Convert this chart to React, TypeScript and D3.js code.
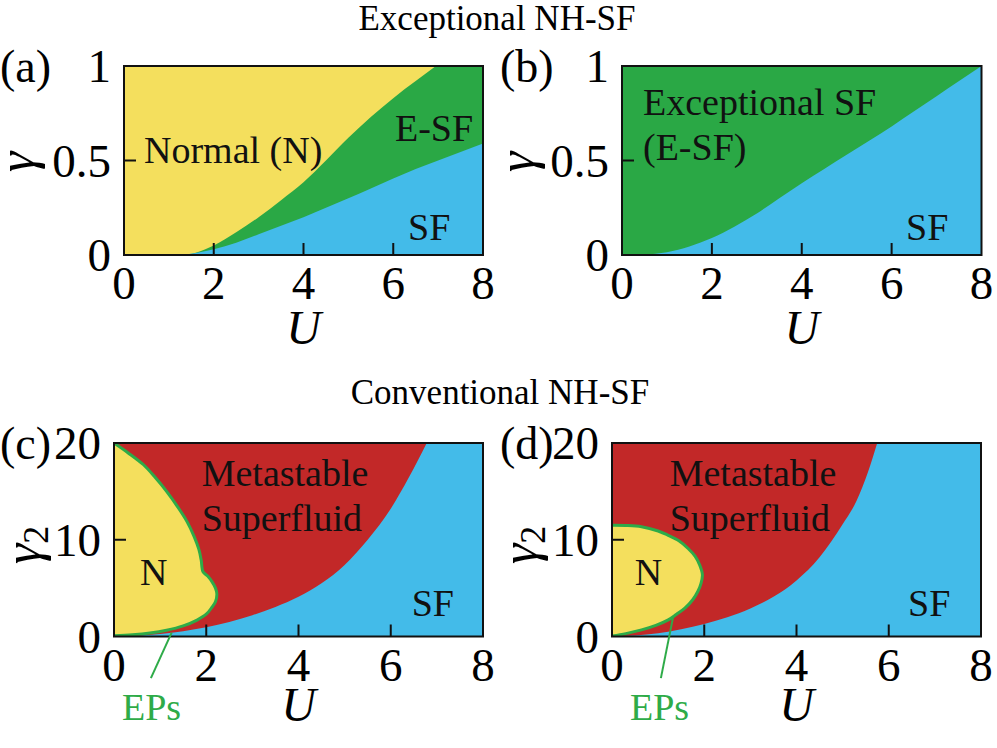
import React from 'react';
import * as d3 from 'd3';

// ---------- data ----------
const uTicks = [0, 2, 4, 6, 8];
const gammaTicks = [0, 0.5, 1];
const gamma2Ticks = [0, 10, 20];

// (a) boundary between Normal and E-SF, and between E-SF and SF  [U, gamma]
const aNormalEdge: [number, number][] = [
  [1.24, 0], [1.6, 0.012], [2, 0.05], [2.5, 0.12], [3, 0.2], [3.5, 0.29], [4, 0.385],
  [4.5, 0.5], [5, 0.62], [5.5, 0.73], [6, 0.83], [6.5, 0.92], [6.95, 1],
];
const aSfEdge: [number, number][] = [
  [1.3, 0], [1.6, 0.01], [2, 0.03], [2.5, 0.065], [3, 0.11], [3.5, 0.155], [4, 0.2],
  [4.5, 0.25], [5, 0.3], [5.5, 0.352], [6, 0.405], [6.5, 0.455], [7, 0.5], [7.5, 0.545], [8, 0.59],
];
// (b) boundary between E-SF and SF
const bSfEdge: [number, number][] = [
  [0, 0], [0.5, 0.003], [1, 0.015], [1.5, 0.045], [2, 0.09], [2.5, 0.15], [3, 0.22], [3.5, 0.3],
  [4, 0.38], [4.5, 0.455], [5, 0.53], [5.5, 0.605], [6, 0.68], [6.5, 0.76], [7, 0.84], [7.5, 0.92], [8, 1],
];
// (c) Normal region boundary (EP line) and metastable / SF boundary  [U, gamma2]
const cNormalEdge: [number, number][] = [
  [0, 20], [0.3, 19.0], [0.64, 17.75], [0.9, 16.4], [1.14, 15.0], [1.38, 13.4], [1.58, 11.9],
  [1.74, 10.3], [1.84, 9.0], [1.89, 7.9], [1.93, 6.7], [2.03, 6.25], [2.12, 5.7], [2.2, 5.0],
  [2.23, 4.4], [2.2, 3.6], [2.12, 3.0], [2.0, 2.3], [1.8, 1.7], [1.5, 1.1], [1.14, 0.65],
  [0.78, 0.36], [0.4, 0.18], [0, 0.08],
];
const cSfEdge: [number, number][] = [
  [0, 0], [0.5, 0.08], [1, 0.25], [1.5, 0.55], [2, 0.95], [2.5, 1.5], [3, 2.2], [3.5, 3.05],
  [4, 4.1], [4.5, 5.5], [5, 7.4], [5.5, 10.0], [6, 13.2], [6.4, 16.5], [6.78, 20],
];
const cEpLeader: [number, number][] = [[0.8, -4.3], [1.25, 0.4]];
// (d)
const dNormalEdge: [number, number][] = [
  [0, 11.5], [0.3, 11.48], [0.64, 11.35], [1.0, 10.9], [1.2, 10.5], [1.45, 9.9], [1.65, 9.1],
  [1.8, 8.3], [1.9, 7.4], [1.96, 6.4], [1.93, 5.5], [1.86, 4.65], [1.75, 3.8], [1.58, 2.93],
  [1.4, 2.3], [1.22, 1.72], [0.95, 1.15], [0.64, 0.68], [0.3, 0.3], [0, 0.05],
];
const dSfEdge: [number, number][] = [
  [0, 0], [0.5, 0.1], [1, 0.33], [1.5, 0.75], [2, 1.3], [2.5, 2.0], [3, 2.9], [3.5, 4.1],
  [4, 5.8], [4.5, 8.2], [5, 11.6], [5.3, 14.0], [5.55, 17.0], [5.75, 20],
];
const dEpLeader: [number, number][] = [[1.06, -4.3], [1.32, 1.9]];

// ---------- style ----------
const YELLOW = '#f4df5d';
const GREEN = '#2aa845';
const BLUE = '#43bbe9';
const RED = '#c22828';
const LINE_GREEN = '#2eab48';
const FONT = 'Liberation Serif';

type Box = { left: number; right: number; top: number; bottom: number };

const boxA: Box = { left: 124, right: 483, top: 66, bottom: 255 };
const boxB: Box = { left: 622, right: 981.5, top: 66, bottom: 255 };
const boxC: Box = { left: 114, right: 483, top: 443, bottom: 636.5 };
const boxD: Box = { left: 612, right: 981, top: 443, bottom: 636.5 };

function Frame({ id, box, yMax, yTicks, yTickLabels, panel, ySub, children, uBaseline }: any) {
  const x = d3.scaleLinear().domain([0, 8]).range([box.left, box.right]);
  const y = d3.scaleLinear().domain([0, yMax]).range([box.bottom, box.top]);
  return (
    <g>
      <defs>
        <clipPath id={id}>
          <rect x={box.left} y={box.top} width={box.right - box.left} height={box.bottom - box.top} />
        </clipPath>
      </defs>
      <g clipPath={`url(#${id})`}>{children(x, y)}</g>
      <rect x={box.left} y={box.top} width={box.right - box.left} height={box.bottom - box.top}
        fill="none" stroke="#111" strokeWidth={2} />
      {uTicks.slice(1, -1).map((t) => (
        <line key={'xt' + t} x1={x(t)} x2={x(t)} y1={box.bottom} y2={box.bottom - 12} stroke="#111" strokeWidth={2} />
      ))}
      {yTicks.slice(1, -1).map((t: number) => (
        <line key={'yt' + t} x1={box.left} x2={box.left + 12} y1={y(t)} y2={y(t)} stroke="#111" strokeWidth={2} />
      ))}
      {uTicks.map((t) => (
        <text key={'xl' + t} x={x(t)} y={box.bottom + 44} textAnchor="middle" fontSize={47} style={{ fontFamily: FONT }}>{t}</text>
      ))}
      {yTicks.map((t: number, i: number) => (
        <text key={'yl' + t} x={box.left - 13} y={y(t) + 16} textAnchor="end" fontSize={47} style={{ fontFamily: FONT }}>{yTickLabels[i]}</text>
      ))}
      <text x={x(4)} y={uBaseline} textAnchor="middle" fontSize={48} fontStyle="italic" style={{ fontFamily: FONT }}>U</text>
      <text x={panel.x} y={panel.y} fontSize={46} style={{ fontFamily: FONT }}>{panel.label}</text>
      <text transform={`translate(${ySub.x},${ySub.y}) rotate(-90)`} textAnchor="middle" fontSize={52}
        fontStyle="italic" style={{ fontFamily: FONT }}>
        γ{ySub.sub ? <tspan fontStyle="normal" fontSize={36} dy={8}>2</tspan> : null}
      </text>
    </g>
  );
}

export default function App() {
  const mono = (x: any, y: any) => d3.line<[number, number]>().x((d) => x(d[0])).y((d) => y(d[1])).curve(d3.curveMonotoneX);
  const smooth = (x: any, y: any) => d3.line<[number, number]>().x((d) => x(d[0])).y((d) => y(d[1])).curve(d3.curveCatmullRom.alpha(0.5));
  const straight = (x: any, y: any) => d3.line<[number, number]>().x((d) => x(d[0])).y((d) => y(d[1]));

  const label = (x: number, y: number, s: string, size = 38, fill = '#111') => (
    <text x={x} y={y} fontSize={size} fill={fill} style={{ fontFamily: FONT }}>{s}</text>
  );

  return (
    <svg width={997} height={748} style={{ position: 'absolute', left: 0, top: 0, background: '#fff' }}>
      <text x={497} y={30} textAnchor="middle" fontSize={35} style={{ fontFamily: FONT }}>Exceptional NH-SF</text>
      <text x={500} y={404} textAnchor="middle" fontSize={35} style={{ fontFamily: FONT }}>Conventional NH-SF</text>

      {/* (a) */}
      <Frame id="clipA" box={boxA} yMax={1} yTicks={gammaTicks} yTickLabels={['0', '0.5', '1']}
        panel={{ x: 0, y: 82, label: '(a)' }} ySub={{ x: 34, y: 162, sub: false }} uBaseline={344}>
        {(x: any, y: any) => (
          <g>
            <rect x={boxA.left} y={boxA.top} width={boxA.right - boxA.left} height={boxA.bottom - boxA.top} fill={YELLOW} />
            <path d={`${mono(x, y)(aNormalEdge)}L${x(8)},${y(1)}L${x(8)},${y(0)}Z`} fill={GREEN} />
            <path d={`${mono(x, y)(aSfEdge)}L${x(8)},${y(0)}Z`} fill={BLUE} />
          </g>
        )}
      </Frame>
      {label(144, 163, 'Normal (N)')}
      {label(395, 141, 'E-SF')}
      {label(408, 240, 'SF')}

      {/* (b) */}
      <Frame id="clipB" box={boxB} yMax={1} yTicks={gammaTicks} yTickLabels={['0', '0.5', '1']}
        panel={{ x: 500, y: 82, label: '(b)' }} ySub={{ x: 534, y: 162, sub: false }} uBaseline={344}>
        {(x: any, y: any) => (
          <g>
            <rect x={boxB.left} y={boxB.top} width={boxB.right - boxB.left} height={boxB.bottom - boxB.top} fill={GREEN} />
            <path d={`${mono(x, y)(bSfEdge)}L${x(8)},${y(0)}Z`} fill={BLUE} />
          </g>
        )}
      </Frame>
      {label(643, 115, 'Exceptional SF')}
      {label(643, 160, '(E-SF)')}
      {label(906, 240, 'SF')}

      {/* (c) */}
      <Frame id="clipC" box={boxC} yMax={20} yTicks={gamma2Ticks} yTickLabels={['0', '10', '20']}
        panel={{ x: 0, y: 459, label: '(c)' }} ySub={{ x: 40, y: 545, sub: true }} uBaseline={721}>
        {(x: any, y: any) => (
          <g>
            <rect x={boxC.left} y={boxC.top} width={boxC.right - boxC.left} height={boxC.bottom - boxC.top} fill={RED} />
            <path d={`${mono(x, y)(cSfEdge)}L${x(8)},${y(20)}L${x(8)},${y(0)}Z`} fill={BLUE} />
            <path d={`${smooth(x, y)(cNormalEdge)}Z`} fill={YELLOW} />
            <path d={smooth(x, y)(cNormalEdge) as string} fill="none" stroke={LINE_GREEN} strokeWidth={3} />
          </g>
        )}
      </Frame>
      {(() => {
        const x = d3.scaleLinear().domain([0, 8]).range([boxC.left, boxC.right]);
        const y = d3.scaleLinear().domain([0, 20]).range([boxC.bottom, boxC.top]);
        return <path d={straight(x, y)(cEpLeader) as string} stroke={LINE_GREEN} strokeWidth={2} fill="none" />;
      })()}
      {label(201.7, 486, 'Metastable')}
      {label(201.7, 531, 'Superfluid')}
      {label(140, 585, 'N')}
      {label(411.7, 616, 'SF')}
      {label(122, 720, 'EPs', 38, LINE_GREEN)}

      {/* (d) */}
      <Frame id="clipD" box={boxD} yMax={20} yTicks={gamma2Ticks} yTickLabels={['0', '10', '20']}
        panel={{ x: 500, y: 459, label: '(d)' }} ySub={{ x: 537, y: 545, sub: true }} uBaseline={721}>
        {(x: any, y: any) => (
          <g>
            <rect x={boxD.left} y={boxD.top} width={boxD.right - boxD.left} height={boxD.bottom - boxD.top} fill={RED} />
            <path d={`${mono(x, y)(dSfEdge)}L${x(8)},${y(20)}L${x(8)},${y(0)}Z`} fill={BLUE} />
            <path d={`${smooth(x, y)(dNormalEdge)}Z`} fill={YELLOW} />
            <path d={smooth(x, y)(dNormalEdge) as string} fill="none" stroke={LINE_GREEN} strokeWidth={3} />
          </g>
        )}
      </Frame>
      {(() => {
        const x = d3.scaleLinear().domain([0, 8]).range([boxD.left, boxD.right]);
        const y = d3.scaleLinear().domain([0, 20]).range([boxD.bottom, boxD.top]);
        return <path d={straight(x, y)(dEpLeader) as string} stroke={LINE_GREEN} strokeWidth={2} fill="none" />;
      })()}
      {label(669.7, 486, 'Metastable')}
      {label(669.7, 531, 'Superfluid')}
      {label(634.7, 585, 'N')}
      {label(908, 616, 'SF')}
      {label(630, 720, 'EPs', 38, LINE_GREEN)}
    </svg>
  );
}
